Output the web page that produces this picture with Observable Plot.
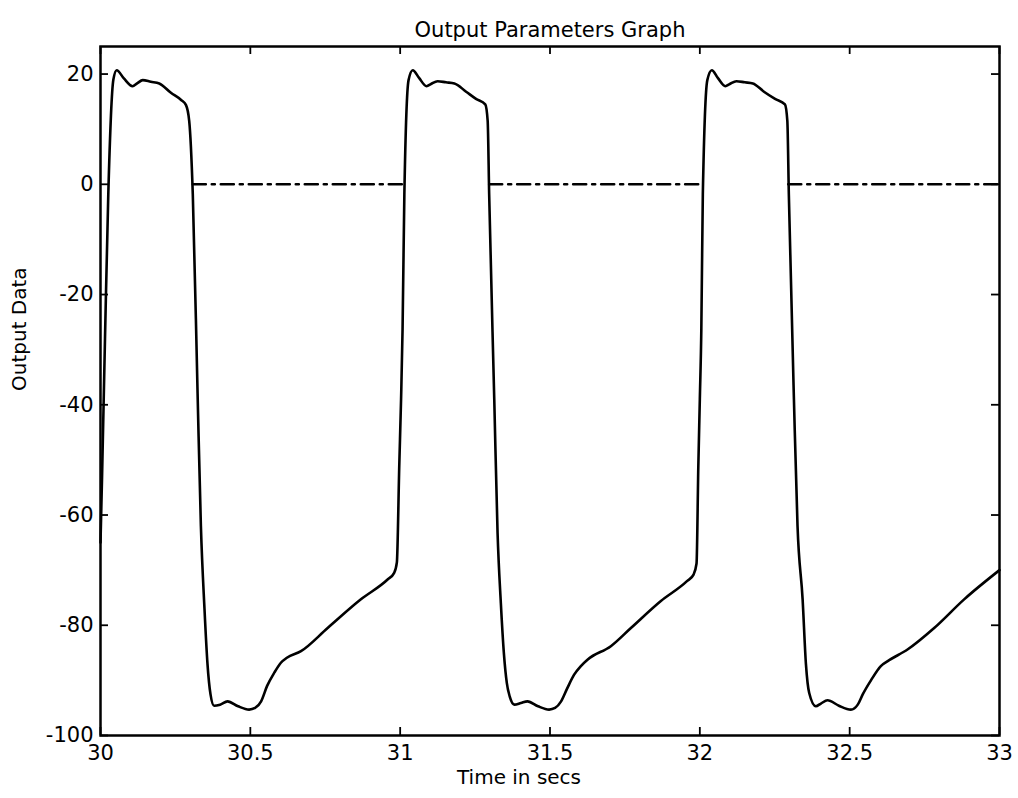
<!DOCTYPE html>
<html>
<head>
<meta charset="utf-8">
<script src="https://cdn.jsdelivr.net/npm/d3@7"></script>
<script src="https://cdn.jsdelivr.net/npm/@observablehq/plot@0.6"></script>
<style>
  html, body { margin: 0; padding: 0; background: #fff; }
  #chart svg { display: block; }
</style>
</head>
<body>
<div id="chart"></div>
<script>
// Output signal (solid line)
const time = [
  30.000, 30.005, 30.015, 30.026, 30.043, 30.054, 30.078, 30.107, 30.122, 30.141,
  30.168, 30.196, 30.235, 30.269, 30.285, 30.296, 30.308, 30.324, 30.335, 30.347,
  30.357, 30.367, 30.379, 30.399, 30.424, 30.459, 30.496, 30.516, 30.536, 30.556,
  30.580, 30.602, 30.622, 30.669, 30.758, 30.869, 30.958, 30.980, 30.989, 30.997,
  31.003, 31.008, 31.014, 31.028, 31.042, 31.063, 31.088, 31.103, 31.125, 31.153,
  31.181, 31.220, 31.253, 31.284, 31.292, 31.297, 31.314, 31.325, 31.336, 31.346,
  31.356, 31.366, 31.381, 31.403, 31.425, 31.460, 31.497, 31.517, 31.537, 31.557,
  31.580, 31.603, 31.626, 31.703, 31.770, 31.870, 31.957, 31.979, 31.989, 31.995,
  32.000, 32.005, 32.010, 32.025, 32.040, 32.060, 32.085, 32.100, 32.122, 32.150,
  32.177, 32.214, 32.251, 32.284, 32.292, 32.297, 32.314, 32.326, 32.343, 32.354,
  32.365, 32.387, 32.404, 32.426, 32.464, 32.504, 32.527, 32.544, 32.571, 32.604,
  32.627, 32.693, 32.782, 32.882, 33.000
];
const output = [
  -65, -53.5, -28, -1.8, 19, 20.7, 19.2, 17.8, 18.3, 18.9,
  18.6, 18.3, 16.6, 15.3, 14.4, 11.5, -1.8, -38, -62, -77,
  -87, -92.5, -94.6, -94.4, -93.8, -94.7, -95.3, -95, -93.8, -91,
  -88.6, -86.8, -85.9, -84.7, -80.5, -75.3, -71.7, -70.5, -68.6, -51,
  -39, -26.3, -1.8, 18.9, 20.7, 19.3, 17.8, 18.2, 18.7, 18.5,
  18.3, 16.8, 15.5, 14.5, 11.5, -1.8, -39, -63.2, -76, -85,
  -90.5, -93, -94.4, -94.1, -93.8, -94.7, -95.3, -95, -93.8, -91.5,
  -89, -87.4, -86.2, -83.8, -80.5, -75.6, -72, -70.8, -68.8, -51,
  -39, -26.3, -1.8, 18.9, 20.7, 19.3, 17.8, 18.2, 18.7, 18.5,
  18.3, 16.8, 15.5, 14.5, 11.5, -1.8, -39, -62, -75.3, -87,
  -92.3, -94.7, -94.2, -93.6, -94.6, -95.3, -94.4, -92.5, -90, -87.4,
  -86.5, -84.4, -80.5, -75.3, -70
];

// Reference signal (dash-dot line); NaN marks the gaps
const refTime  = [30.308, 31.013, NaN, 31.297, 32.006, NaN, 32.295, 33.0];
const refValue = [0, 0, NaN, 0, 0, NaN, 0, 0];

// Tick values
const xTicks = [30, 30.5, 31, 31.5, 32, 32.5, 33];
const yTicks = [-100, -80, -60, -40, -20, 0, 20];

const titleText = "Output Parameters Graph";
const xLabel = "Time in secs";
const yLabel = "Output Data";

const curve = time.map((t, i) => ({t, v: output[i]}));
const ref = refTime.map((t, i) => ({t, v: refValue[i]}));

const W = 1018, H = 798;
const mL = 100, mR = 19, mT = 46, mB = 63;
const plotW = W - mL - mR, plotH = H - mT - mB;
const tickLen = 8;
const fontFamily = "'DejaVu Sans', 'Liberation Sans', sans-serif";

const chart = Plot.plot({
  width: W,
  height: H,
  marginLeft: mL,
  marginRight: mR,
  marginTop: mT,
  marginBottom: mB,
  style: {fontFamily, fontSize: "21px", color: "#000", background: "#fff"},
  x: {domain: [30, 33]},
  y: {domain: [-100, 25]},
  marks: [
    Plot.line(ref, {x: "t", y: "v", stroke: "#000", strokeWidth: 2.6, strokeDasharray: "13,6,3,6"}),
    Plot.line(curve, {x: "t", y: "v", stroke: "#000", strokeWidth: 2.6, curve: "monotone-x", strokeLinejoin: "round"}),
    // inward ticks on all four sides
    Plot.tickX(xTicks, {x: d => d, insetTop: plotH - tickLen, stroke: "#000", strokeWidth: 1.8}),
    Plot.tickX(xTicks, {x: d => d, insetBottom: plotH - tickLen, stroke: "#000", strokeWidth: 1.8}),
    Plot.tickY(yTicks, {y: d => d, insetRight: plotW - tickLen, stroke: "#000", strokeWidth: 1.8}),
    Plot.tickY(yTicks, {y: d => d, insetLeft: plotW - tickLen, stroke: "#000", strokeWidth: 1.8}),
    Plot.frame({stroke: "#000", strokeWidth: 2.5}),
    Plot.axisX(xTicks, {anchor: "bottom", tickSize: 0, tickPadding: 10, tickFormat: d => String(d), label: null, fontSize: 21}),
    Plot.axisY(yTicks, {anchor: "left", tickSize: 0, tickPadding: 7, tickFormat: d => String(d), label: null, fontSize: 21}),
    Plot.text([titleText], {text: d => d, frameAnchor: "top", dy: -24, fontSize: 21, fill: "#000"}),
    Plot.text([xLabel], {text: d => d, frameAnchor: "bottom", dy: 48, dx: -31, fontSize: 20, fill: "#000"}),
    Plot.text([yLabel], {text: d => d, frameAnchor: "left", dx: -81, rotate: -90, fontSize: 20, fill: "#000"})
  ]
});
document.getElementById("chart").appendChild(chart);
</script>
</body>
</html>
